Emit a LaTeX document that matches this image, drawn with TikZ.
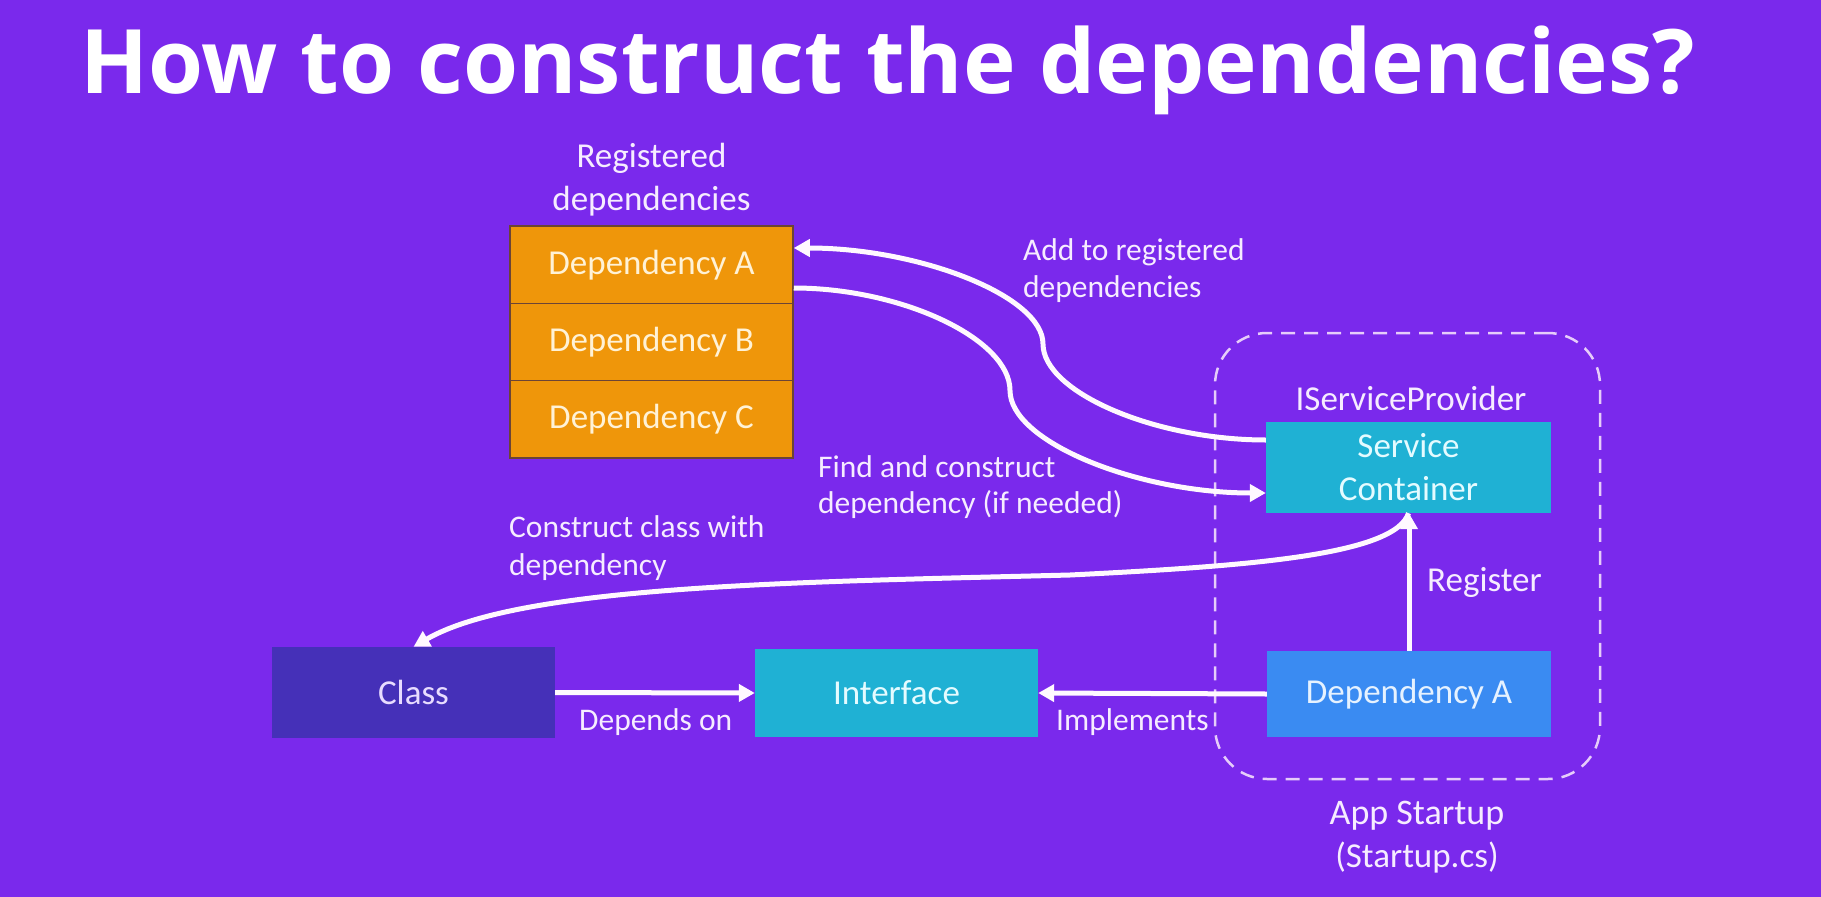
\documentclass[tikz,border=0pt]{standalone}
\usepackage{fontspec}
\setmainfont{Carlito}
\newfontfamily\headfont{Open Sans}
\usetikzlibrary{arrows.meta,calc}

\definecolor{bg}{HTML}{7A29EC}
\definecolor{regfill}{HTML}{EF960A}
\definecolor{regedge}{HTML}{6B4436}
\definecolor{regtext}{HTML}{FFF2D6}
\definecolor{tealfill}{HTML}{1FB1D4}
\definecolor{tealtext}{HTML}{E4FBFF}
\definecolor{bluefill}{HTML}{3A8BF2}
\definecolor{bluetext}{HTML}{E6F2FF}
\definecolor{classfill}{HTML}{4530B8}
\definecolor{classtext}{HTML}{E8DCFF}
\definecolor{labelc}{HTML}{F6ECFF}
\definecolor{dashc}{HTML}{E6CCFA}
\definecolor{arrowc}{HTML}{FFF8FF}

\newcommand{\boxsize}{\fontsize{35}{43}\selectfont}
\newcommand{\notesize}{\fontsize{31.5}{37}\selectfont}

\begin{document}
\begin{tikzpicture}[x=1pt,y=-1pt,
  plainbox/.style={inner sep=0pt, align=center, font=\boxsize},
  regbox/.style={plainbox, fill=regfill, draw=regedge, line width=1.5pt,
    text=regtext, minimum width=283pt, minimum height=77.3pt},
  tealbox/.style={plainbox, fill=tealfill, text=tealtext},
  bluebox/.style={plainbox, fill=bluefill, text=bluetext},
  classbox/.style={plainbox, fill=classfill, text=classtext},
  note/.style={inner sep=0pt, text=labelc, font=\notesize, align=left},
  caption/.style={inner sep=0pt, text=labelc, font=\boxsize, align=center},
  flow/.style={draw=arrowc, line width=5pt,
    -{Triangle[length=16pt,width=17pt]}},
]
\useasboundingbox[fill=bg] (0,0) rectangle (1821,897);

% heading
\node[anchor=base west, inner sep=0pt, text=white,
  font=\headfont\bfseries\fontsize{89}{100}\selectfont] (title) at (80,93)
  {How to construct the dependencies?};

% registered dependencies stack (multi-line nodes sit on their last baseline)
\node[caption, anchor=base] (regcap) at (651.5,210) {Registered\\dependencies};
\node[regbox] (regA) at (651.5,264.7) {Dependency A};
\node[regbox] (regB) at (651.5,342) {Dependency B};
\node[regbox] (regC) at (651.5,419.3) {Dependency C};

% app startup group
\node[draw=dashc, line width=2.5pt, dash pattern=on 14pt off 9pt,
  rounded corners=52pt, minimum width=385pt, minimum height=446pt,
  inner sep=0pt] (startup) at (1407.5,556) {};
\node[caption, anchor=base] (startcap) at (1417,867)
  {\fontsize{36}{42}\selectfont App Startup\\(Startup.cs)};
\node[caption, anchor=base] (spcap) at (1411,410) {IServiceProvider};
\node[tealbox, minimum width=285pt, minimum height=91pt] (sc) at (1408.5,467.5)
  {Service\\Container};
\node[bluebox, minimum width=284pt, minimum height=86pt] (depa) at (1409,694)
  {Dependency A};

% consumer side
\node[classbox, minimum width=283pt, minimum height=91pt] (cls) at (413.5,692.5) {Class};
\node[tealbox, minimum width=283pt, minimum height=88pt] (iface) at (896.5,693) {Interface};

% connector labels
\node[note, anchor=base west] (addlbl) at (1023,297) {Add to registered\\dependencies};
\node[note, anchor=base west, font=\fontsize{31.5}{36}\selectfont] (findlbl) at (818,513)
  {Find and construct\\dependency (if needed)};
\node[note, anchor=base west, font=\fontsize{31.5}{38}\selectfont] (conslbl) at (509,575)
  {Construct class with\\dependency};
\node[note, anchor=base west, font=\boxsize] (reglbl) at (1427,591) {Register};
\node[note, anchor=base west] (deplbl) at (579,730) {Depends on};
\node[note, anchor=base west] (impllbl) at (1056,730) {Implements};

% connectors
\draw[flow] ($(sc.west)+(0,-27.5)$) .. controls (1154.5,440) and (1043,392) .. (1043,344)
  .. controls (1043,296) and (919,248) .. ($(regA.east)+(0,-16.7)$);
\draw[flow] ($(regA.east)+(0,23.3)$) .. controls (901.5,288) and (1010,339) .. (1010,390.5)
  .. controls (1010,442) and (1138,493) .. ($(sc.west)+(0,25.5)$);
\draw[flow] (sc.south) .. controls (1395,555) and (1250,566) .. (1070,575)
  .. controls (800,582) and (520,585) .. (cls.north);
\draw[flow] (depa.north) -- (depa.north |- sc.south);
\draw[flow] (cls.east) -- (iface.west);
\draw[flow] (depa.west) -- (iface.east);
\end{tikzpicture}
\end{document}
